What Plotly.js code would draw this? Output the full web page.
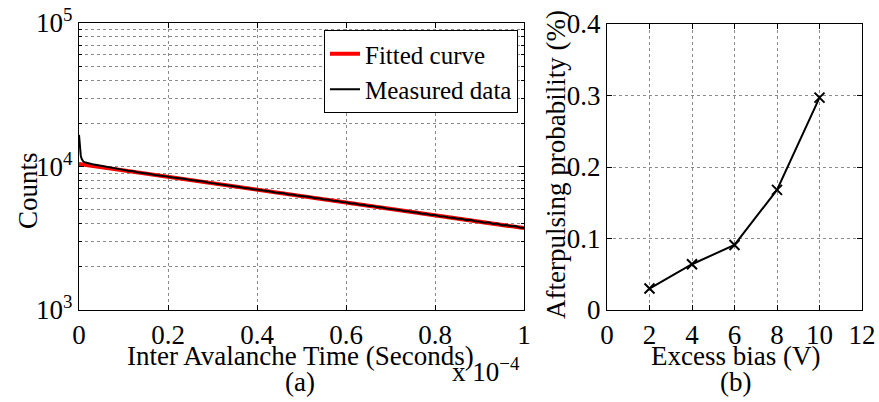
<!DOCTYPE html>
<html><head><meta charset="utf-8">
<script src="https://cdn.plot.ly/plotly-3.0.1.min.js"></script>
<style>html,body{margin:0;padding:0;background:#fff}#plot{width:879px;height:402px}</style>
</head><body><div id="plot"></div>
<script>
// Panel (a): time in units of 1e-4 s
const fitX = [0,0.1,0.2,0.3,0.4,0.5,0.6,0.7,0.8,0.9,1.0];
const fitY = [10400,9383,8465,7637,6890,6216,5608,5060,4565,4118,3720];

const measX = [0,0.002,0.004,0.006,0.008,0.01,0.015,0.02,0.03,0.04,0.05,0.06,0.07,0.08,0.09,
 0.10,0.11,0.12,0.13,0.14,0.15,0.16,0.17,0.18,0.19,0.20,0.21,0.22,0.23,0.24,0.25,0.26,0.27,0.28,0.29,
 0.30,0.31,0.32,0.33,0.34,0.35,0.36,0.37,0.38,0.39,0.40,0.41,0.42,0.43,0.44,0.45,0.46,0.47,0.48,0.49,
 0.50,0.51,0.52,0.53,0.54,0.55,0.56,0.57,0.58,0.59,0.60,0.61,0.62,0.63,0.64,0.65,0.66,0.67,0.68,0.69,
 0.70,0.71,0.72,0.73,0.74,0.75,0.76,0.77,0.78,0.79,0.80,0.81,0.82,0.83,0.84,0.85,0.86,0.87,0.88,0.89,
 0.90,0.91,0.92,0.93,0.94,0.95,0.96,0.97,0.98,0.99,1.0];
const measY = [16600,13400,11900,11300,11000,10800,10650,10520,10380,10230,10120,9960,9850,9700,9610,
 9470,9330,9290,9120,9060,8930,8880,8740,8690,8560,8500,8390,8340,8200,8180,8040,7990,7860,7850,7720,
 7650,7590,7480,7450,7300,7290,7190,7080,7060,6950,6900,6840,6740,6700,6600,6570,6500,6390,6380,6270,
 6240,6140,6120,6010,6000,5890,5880,5770,5760,5650,5640,5530,5520,5420,5410,5310,5300,5200,5190,5100,
 5080,5000,4980,4890,4880,4790,4780,4690,4680,4590,4590,4500,4490,4410,4400,4320,4320,4230,4250,4150,
 4140,4060,4090,3980,4000,3900,3910,3840,3850,3760,3720];

// Panel (b)
const biasX = [2,4,6,8,10];
const apY = [0.030,0.064,0.091,0.168,0.297];

const FONT = 'Liberation Serif';
const TICK = 27, TITLE = 27, LEG = 25;
function tf(){ return {family:FONT, size:TICK, color:'#000'}; }
function ttl(){ return {family:FONT, size:TITLE, color:'#000'}; }
function ax(extra){
  return Object.assign({showline:true, linecolor:'#000', linewidth:1.2, mirror:'ticks', ticks:'inside',
    ticklen:5, tickcolor:'#000', zeroline:false, tickfont:tf(), automargin:false,
    showgrid:true, gridcolor:'#8a8a8a', griddash:'dot', gridwidth:1}, extra);
}

const traces = [
 {x:fitX, y:fitY, type:'scatter', mode:'lines', name:'Fitted curve', line:{color:'#ff0000', width:4}, xaxis:'x', yaxis:'y'},
 {x:measX, y:measY, type:'scatter', mode:'lines', name:'Measured data', line:{color:'#000', width:2}, xaxis:'x', yaxis:'y'},
 {x:biasX, y:apY, type:'scatter', mode:'lines+markers', showlegend:false, line:{color:'#000', width:2},
  marker:{symbol:'x-thin', size:10, line:{color:'#000', width:2}}, xaxis:'x2', yaxis:'y2'}
];

const layout = {
  width:879, height:402, margin:{l:0,r:0,t:0,b:0},
  showlegend:true,
  legend:{x:518/879, xanchor:'right', y:1-30/402, yanchor:'top', bgcolor:'#fff', bordercolor:'#000', borderwidth:1,
    font:{family:FONT,size:LEG,color:'#000'}},
  xaxis:ax({domain:[79/879,524/879], range:[0,1], tickvals:[0,0.2,0.4,0.6,0.8,1], ticktext:['0','0.2','0.4','0.6','0.8','1']}),
  yaxis:ax({domain:[1-310/402,1-23/402], type:'log', range:[3,5],
    tickvals:[1000,10000,100000], ticktext:['10<sup>3</sup>','10<sup>4</sup>','10<sup>5</sup>'],
    minor:{tickvals:[2000,3000,4000,5000,6000,7000,8000,9000,20000,30000,40000,50000,60000,70000,80000,90000],
      ticks:'inside', ticklen:3, tickcolor:'#000', showgrid:true, gridcolor:'#8a8a8a', griddash:'dot', gridwidth:1}}),
  xaxis2:ax({domain:[607/879,862/879], range:[0,12], tickvals:[0,2,4,6,8,10,12], anchor:'y2'}),
  yaxis2:ax({domain:[1-310/402,1-24/402], range:[0,0.4], tickvals:[0,0.1,0.2,0.3,0.4], ticktext:['0','0.1','0.2','0.3','0.4'], anchor:'x2'}),
  annotations:[
    {xref:'paper', yref:'paper', x:300/879, y:1-356/402, xanchor:'center', yanchor:'middle', showarrow:false,
     text:'Inter Avalanche Time (Seconds)', font:ttl()},
    {xref:'paper', yref:'paper', x:28/879, y:1-190/402, xanchor:'center', yanchor:'middle', showarrow:false, textangle:-90,
     text:'Counts', font:ttl()},
    {xref:'paper', yref:'paper', x:735/879, y:1-356/402, xanchor:'center', yanchor:'middle', showarrow:false,
     text:'Excess bias (V)', font:ttl()},
    {xref:'paper', yref:'paper', x:556/879, y:1-165/402, xanchor:'center', yanchor:'middle', showarrow:false, textangle:-90,
     text:'Afterpulsing probability (%)', font:ttl()},
    {xref:'paper', yref:'paper', x:522/879, y:1-370/402, xanchor:'right', yanchor:'middle', showarrow:false,
     text:'x 10<sup>−4</sup>', font:ttl()},
    {xref:'paper', yref:'paper', x:300/879, y:1-382/402, xanchor:'center', yanchor:'middle', showarrow:false,
     text:'(a)', font:ttl()},
    {xref:'paper', yref:'paper', x:735/879, y:1-382/402, xanchor:'center', yanchor:'middle', showarrow:false,
     text:'(b)', font:ttl()}
  ]
};
Plotly.newPlot('plot', traces, layout, {staticPlot:true}).then(function(){
  document.querySelectorAll('.xtick text, .ytick text, .x2tick text, .y2tick text').forEach(function(t){
    t.style.fontFamily = FONT; t.style.fontSize = TICK + 'px';
  });
  document.querySelectorAll('.legendtext').forEach(function(t){
    t.style.fontFamily = FONT; t.style.fontSize = LEG + 'px';
  });
});
</script></body></html>
